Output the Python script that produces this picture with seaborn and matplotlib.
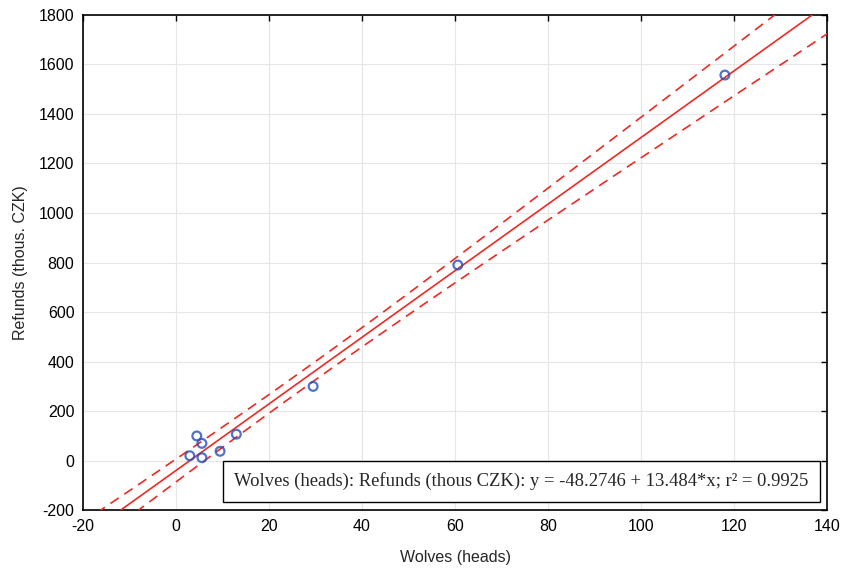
import numpy as np
import pandas as pd
import matplotlib
matplotlib.use('Agg')
import matplotlib.pyplot as plt
import seaborn as sns

# Wolves (heads) vs refunds (thous. CZK)
wolves = [3, 4.5, 5.6, 5.6, 9.5, 13, 29.5, 60.6, 118]
refunds = [20, 100, 70, 12, 38, 107, 300, 790, 1557]
x_ticks = [-20, 0, 20, 40, 60, 80, 100, 120, 140]
y_ticks = [-200, 0, 200, 400, 600, 800, 1000, 1200, 1400, 1600, 1800]
label_x = 'Wolves (heads)'
label_y = 'Refunds (thous. CZK)'
eq_text = 'Wolves (heads): Refunds (thous CZK): y = -48.2746 + 13.484*x; r² = 0.9925'

df = pd.DataFrame({'x': wolves, 'y': refunds})

sns.set_style('white')
plt.rcParams['font.family'] = ['Liberation Sans', 'DejaVu Sans']
plt.rcParams['axes.unicode_minus'] = False

fig = plt.figure(figsize=(8.45, 5.72), dpi=100)
ax = fig.add_axes([0.098, 0.108, 0.881, 0.866])
ax.set_xlim(-20, 140)
ax.set_ylim(-200, 1800)

red = '#ee2a24'
sns.regplot(data=df, x='x', y='y', ax=ax, ci=None, truncate=False,
            scatter_kws=dict(s=40, facecolors='none', edgecolors='#2650b8', linewidths=1.6, zorder=4),
            line_kws=dict(color=red, lw=1.2, zorder=3))

# 95% confidence band for the mean (dashed)
x = np.array(wolves, dtype=float)
y = np.array(refunds, dtype=float)
n = len(x)
b, a = np.polyfit(x, y, 1)
resid = y - (a + b * x)
s = np.sqrt(np.sum(resid ** 2) / (n - 2))
t_crit = 2.365
xs = np.linspace(-20, 140, 200)
se = s * np.sqrt(1 / n + (xs - x.mean()) ** 2 / np.sum((x - x.mean()) ** 2))
ys = a + b * xs
band = pd.DataFrame({'x': np.concatenate([xs, xs]),
                     'y': np.concatenate([ys - t_crit * se, ys + t_crit * se]),
                     'side': ['lo'] * len(xs) + ['hi'] * len(xs)})
for side, g in band.groupby('side'):
    ax.plot(g['x'], g['y'], color=red, lw=1.2, ls=(0, (6, 4)), zorder=3)

ax.set_xticks(x_ticks)
ax.set_yticks(y_ticks)
ax.grid(True, color='#e6e6e6', lw=0.8)
ax.set_axisbelow(True)
for sp in ax.spines.values():
    sp.set_color('black')
    sp.set_linewidth(1.2)
ax.tick_params(direction='in', length=4, width=1, top=True, right=True,
               labelsize=11.5, colors='black', pad=6)
ax.set_xlabel(label_x, fontsize=11.5, labelpad=12)
ax.set_ylabel(label_y, fontsize=11.5, labelpad=8)

ax.text(0.975, 0.040, eq_text, transform=ax.transAxes, ha='right', va='bottom',
        fontsize=13.4, family=['Liberation Serif', 'DejaVu Serif'], zorder=6,
        bbox=dict(boxstyle='square,pad=0.6', fc='white', ec='black', lw=1))

fig.savefig('out.png', dpi=100)
